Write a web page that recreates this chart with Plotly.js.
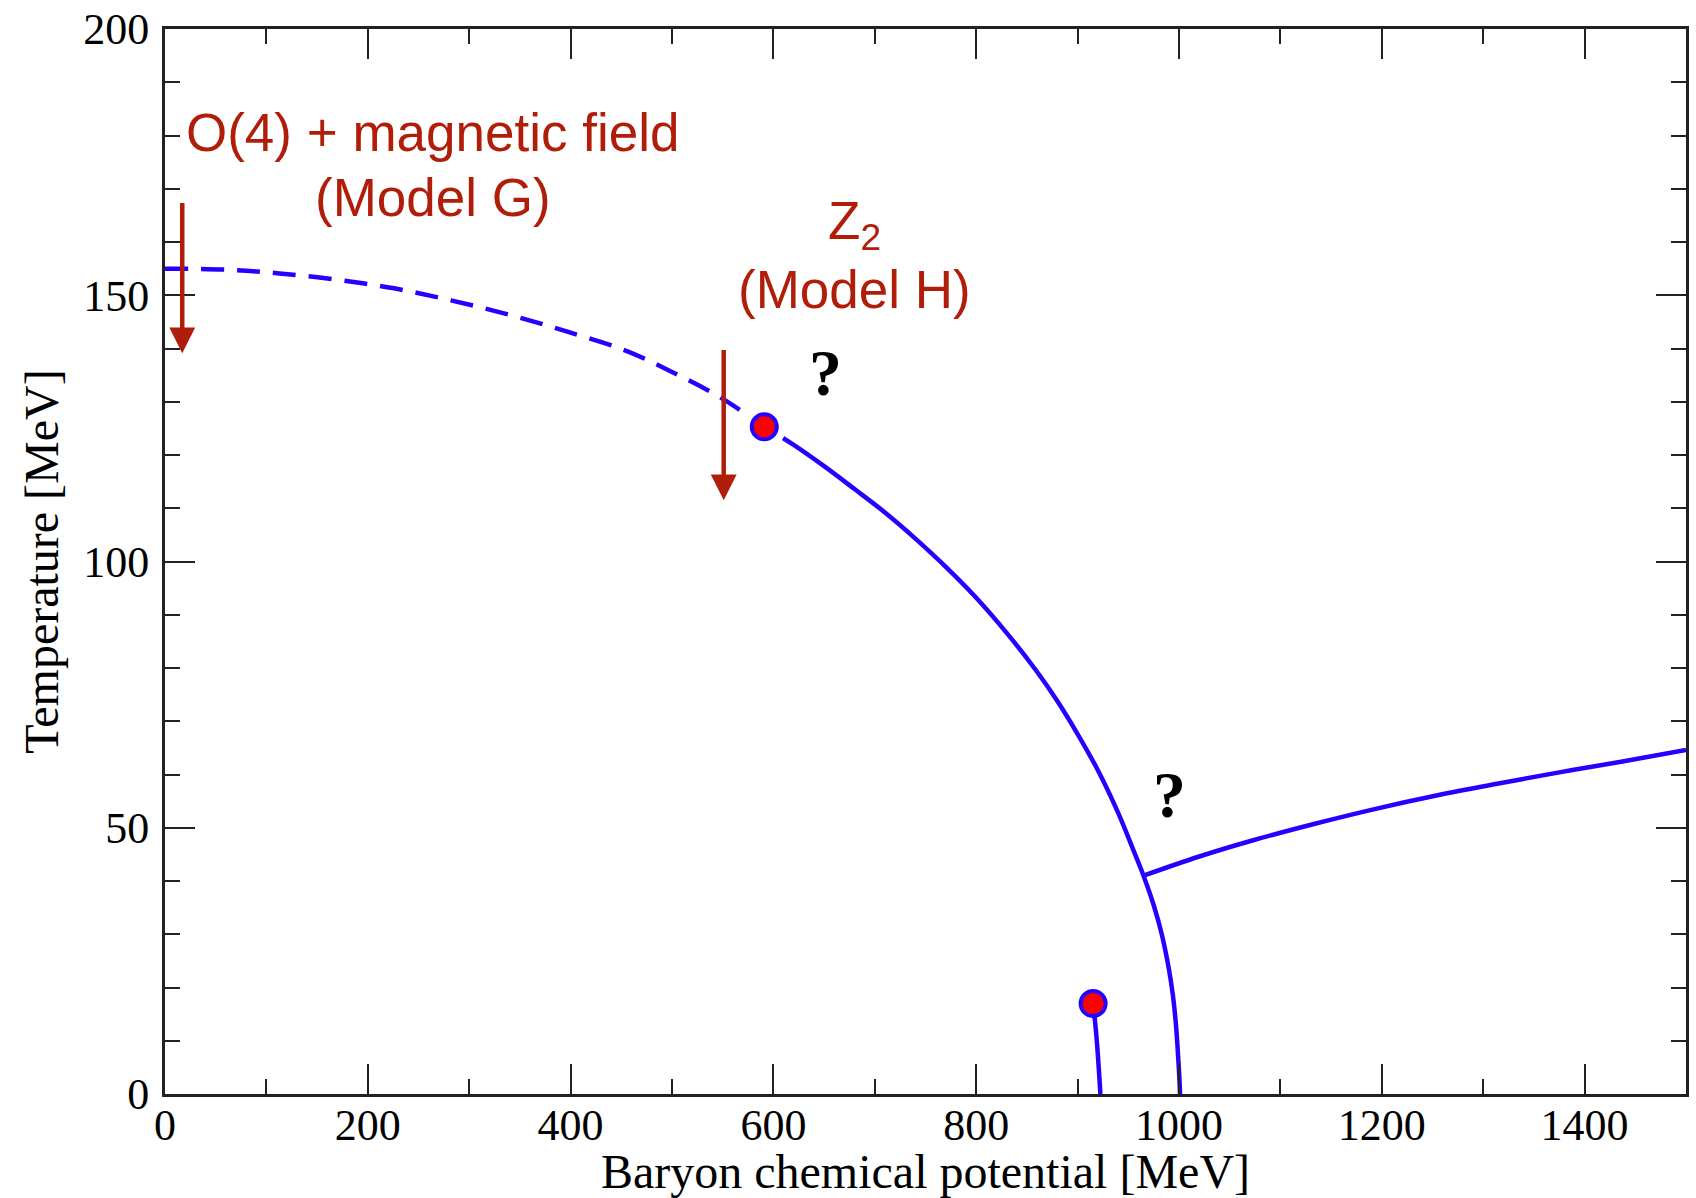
<!DOCTYPE html>
<html>
<head>
<meta charset="utf-8">
<script src="https://cdn.plot.ly/plotly-3.0.1.min.js"></script>
<style>html,body{margin:0;padding:0;background:#fff;}#chart{width:1696px;height:1198px;}</style>
</head>
<body>
<div id="chart"></div>
<script>
// ---- data ----
const dashedMu = [0, 60, 113, 170, 226, 283, 340, 396, 453, 500, 547, 591];
const dashedT  = [155.0, 154.8, 154.1, 152.9, 151.3, 149.0, 146.3, 143.2, 139.7, 135.6, 130.9, 125.3];

const solidMu = [591, 620, 650, 680, 710, 740, 770, 800, 830, 860, 880, 900, 920, 940, 955, 965, 975, 983, 990, 994, 997, 999, 1000.5, 1001];
const solidT  = [125.3, 121.9, 117.9, 113.6, 109.2, 104.3, 99.0, 93.2, 86.6, 79.3, 73.8, 67.6, 60.8, 52.8, 45.8, 41.0, 35.5, 30.0, 23.5, 18.5, 13.0, 7.5, 2.5, 0];

const branchMu = [965, 1020, 1074, 1135, 1195, 1255, 1315, 1375, 1436, 1500];
const branchT  = [41.0, 44.6, 47.7, 50.8, 53.6, 56.1, 58.3, 60.4, 62.4, 64.6];

const smallMu = [915.3, 918.6, 922.5];
const smallT  = [17.0, 10.8, 0];

const cpMu = [591, 915.3];
const cpT  = [125.3, 17.0];

const arrowMu  = [17, 551];
const arrowTop = [167.6, 140.0];
const arrowTip = [139.1, 111.5];

const labelTexts = ['O(4) + magnetic field', '(Model G)', 'Z<sub>2</sub>', '(Model H)'];
const labelMu    = [264, 264, 680, 680];
const labelT     = [180.5, 168.3, 163.2, 151.0];

const qMu = [651, 991];
const qT  = [135.4, 56.2];

// ---- styles ----
const BLUE = '#2400ff';
const RED = '#b01e0a';
const AX = '#222222';
const SERIF = 'Liberation Serif, Times New Roman, serif';

const traces = [
  {x: dashedMu, y: dashedT, mode: 'lines', line: {color: BLUE, width: 4.5, dash: '23px,13px', shape: 'spline'}, hoverinfo: 'skip'},
  {x: solidMu, y: solidT, mode: 'lines', line: {color: BLUE, width: 4.5, shape: 'spline'}, hoverinfo: 'skip'},
  {x: branchMu, y: branchT, mode: 'lines', line: {color: BLUE, width: 4.5, shape: 'spline'}, hoverinfo: 'skip'},
  {x: smallMu, y: smallT, mode: 'lines', line: {color: BLUE, width: 4.5, shape: 'spline'}, hoverinfo: 'skip'},
  {x: [cpMu[0]], y: [cpT[0]], mode: 'markers', marker: {color: '#ffffff', size: 44, line: {width: 0}}, hoverinfo: 'skip'},
  {x: cpMu, y: cpT, mode: 'markers', marker: {color: '#ff0000', size: 25, line: {color: BLUE, width: 4}}, hoverinfo: 'skip'}
];

const annotations = [];
for (let i = 0; i < arrowMu.length; i++) {
  annotations.push({
    x: arrowMu[i], y: arrowTip[i], ax: arrowMu[i], ay: arrowTop[i],
    xref: 'x', yref: 'y', axref: 'x', ayref: 'y',
    text: '', showarrow: true, arrowhead: 2, arrowsize: 1.15, arrowwidth: 4.5,
    arrowcolor: RED, standoff: 0, startstandoff: 0
  });
}
for (let i = 0; i < labelTexts.length; i++) {
  annotations.push({
    x: labelMu[i], y: labelT[i], xref: 'x', yref: 'y', text: labelTexts[i],
    showarrow: false, xanchor: 'center', yanchor: 'middle',
    font: {family: 'Liberation Sans, Arial, sans-serif', size: 53, color: RED}
  });
}
for (let i = 0; i < qMu.length; i++) {
  annotations.push({
    x: qMu[i], y: qT[i], xref: 'x', yref: 'y', text: '<b>?</b>',
    showarrow: false, xanchor: 'center', yanchor: 'middle',
    font: {family: SERIF, size: 66, color: '#000'}
  });
}

const layout = {
  width: 1696, height: 1198,
  margin: {l: 165, r: 10, t: 29, b: 104, pad: 0},
  paper_bgcolor: '#fff', plot_bgcolor: '#fff',
  showlegend: false,
  font: {family: SERIF, size: 44, color: '#000'},
  xaxis: {
    range: [0, 1500], dtick: 200, tick0: 0,
    ticks: 'inside', ticklen: 30, tickwidth: 2, tickcolor: AX,
    showline: true, linewidth: 3, linecolor: AX, mirror: 'ticks',
    showgrid: false, zeroline: false,
    minor: {dtick: 100, ticks: 'inside', ticklen: 15, tickwidth: 2, tickcolor: AX, showgrid: false},
    tickfont: {family: SERIF, size: 44, color: '#000'},
    ticklabelstandoff: -10,
    title: {text: 'Baryon chemical potential [MeV]', standoff: 20,
            font: {family: SERIF, size: 48, color: '#000'}}
  },
  yaxis: {
    range: [0, 200], dtick: 50, tick0: 0,
    ticks: 'inside', ticklen: 30, tickwidth: 2, tickcolor: AX,
    showline: true, linewidth: 3, linecolor: AX, mirror: 'ticks',
    showgrid: false, zeroline: false,
    minor: {dtick: 10, ticks: 'inside', ticklen: 15, tickwidth: 2, tickcolor: AX, showgrid: false},
    tickfont: {family: SERIF, size: 44, color: '#000'},
    ticklabelstandoff: 4,
    title: {text: 'Temperature [MeV]', standoff: 10,
            font: {family: SERIF, size: 48, color: '#000'}}
  },
  annotations: annotations
};

Plotly.newPlot('chart', traces, layout, {displayModeBar: false, staticPlot: true});
</script>
</body>
</html>
